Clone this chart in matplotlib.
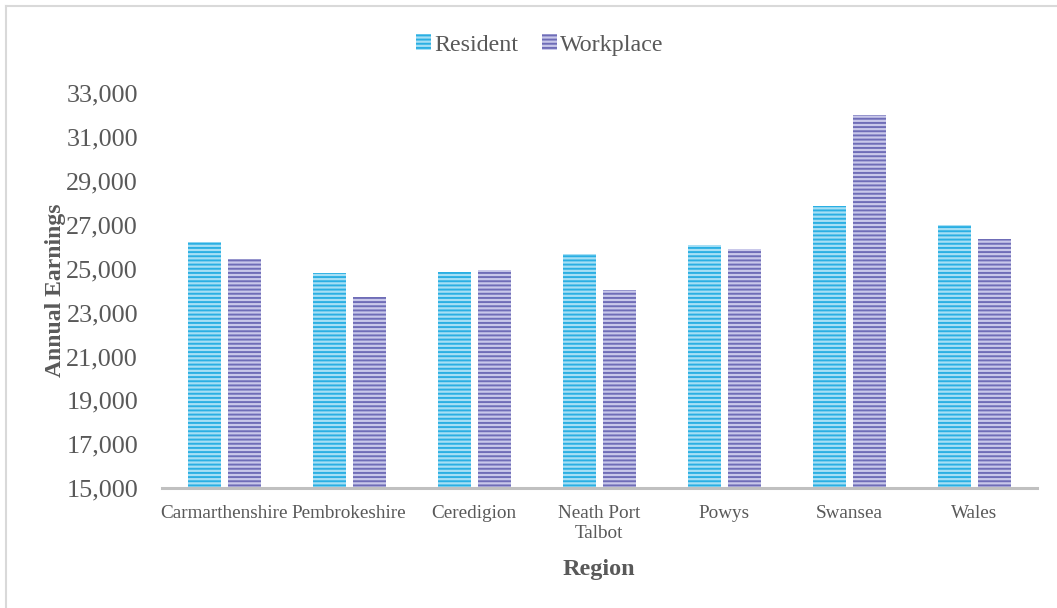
import numpy as np
import matplotlib.pyplot as plt
from matplotlib.lines import Line2D

regions = ['Carmarthenshire', 'Pembrokeshire', 'Ceredigion', 'Neath Port\nTalbot',
           'Powys', 'Swansea', 'Wales']
resident = [26200, 24800, 24850, 25650, 26100, 27850, 27000]
workplace = [25450, 23700, 24950, 24050, 25900, 32000, 26350]

plt.rcParams['font.family'] = ['Liberation Serif', 'DejaVu Serif']
plt.rcParams['hatch.linewidth'] = 1.4
grey = '#595959'

fig = plt.figure(figsize=(10.57, 6.08), dpi=100)
ax = fig.add_axes([0.153, 0.197, 0.828, 0.650])

x = np.arange(len(regions))
w = 0.264
off = 0.16
ax.bar(x - off, resident, w, color='#a6dff5', edgecolor='#2aafe3',
       hatch='----', linewidth=0, label='Resident')
ax.bar(x + off, workplace, w, color='#c9c8ea', edgecolor='#6f6db7',
       hatch='----', linewidth=0, label='Workplace')

ax.set_ylim(15000, 33000)
ax.set_xlim(-0.5, len(regions) - 0.5)
ax.set_yticks(np.arange(15000, 33001, 2000))
ax.set_yticklabels(['{:,}'.format(v) for v in range(15000, 33001, 2000)])
ax.set_xticks(x)
ax.set_xticklabels(regions, fontsize=13.8, color=grey, linespacing=1.25)
ax.tick_params(axis='y', labelsize=18.8, labelcolor=grey, length=0, pad=17)
ax.tick_params(axis='x', length=0, pad=12)

for s in ['top', 'right', 'left']:
    ax.spines[s].set_visible(False)
ax.spines['bottom'].set_color('#c0c0c0')
ax.spines['bottom'].set_linewidth(2.2)

ax.set_xlabel('Region', fontsize=17.5, fontweight='bold', color=grey, labelpad=12)
ax.set_ylabel('Annual Earnings', fontsize=17, fontweight='bold', color=grey, labelpad=0)

fig.legend(loc='center', bbox_to_anchor=(0.511, 0.926), ncol=2, frameon=False,
           fontsize=17.3, handlelength=0.6, handleheight=0.6, handletextpad=0.15,
           columnspacing=1.0, labelcolor=grey)

fig.add_artist(Line2D([0.0057, 0.0057], [0.0, 0.99], transform=fig.transFigure,
                      color='#d9d9d9', linewidth=1.5))
fig.add_artist(Line2D([0.0057, 1.0], [0.99, 0.99], transform=fig.transFigure,
                      color='#d9d9d9', linewidth=1.5))

fig.savefig('out.png', dpi=100)
